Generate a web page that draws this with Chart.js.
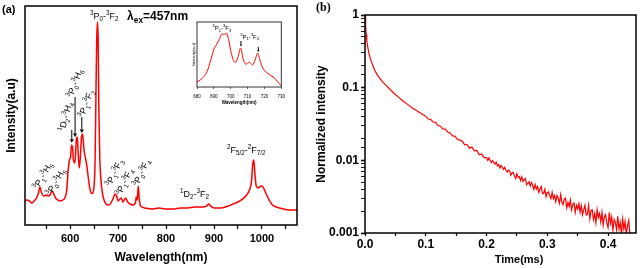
<!DOCTYPE html>
<html>
<head>
<meta charset="utf-8">
<script src="https://cdn.jsdelivr.net/npm/chart.js@4.4.1/dist/chart.umd.min.js"></script>
<style>
html, body { margin: 0; padding: 0; background: #fff; }
body { width: 640px; height: 268px; position: relative; overflow: hidden; }
canvas { position: absolute; }
#specChart { left: 0; top: 0; }
#insetChart { left: 182px; top: 18px; }
#decayChart { left: 312px; top: 0; }
</style>
</head>
<body>
<canvas id="specChart" width="320" height="268"></canvas>
<canvas id="decayChart" width="328" height="268"></canvas>
<canvas id="insetChart" width="108" height="92"></canvas>
<script>
// --- donnees (a) : spectre d'emission ---
const waveNm = [506, 510, 515, 520, 525, 530, 534, 537, 540, 545, 550, 555, 558, 562, 565, 570, 575, 580, 585, 590,
  593, 596, 599, 601, 603, 605, 607, 610, 613, 615, 617, 619, 621, 624, 626, 629, 632, 635, 638, 641,
  644, 647, 650, 652, 654, 655.5, 657, 658.5, 660, 662, 664, 667, 670, 675, 680, 685, 690, 694, 697, 700,
  704, 707, 710, 716, 720, 725, 732, 736, 738, 740, 742, 744, 747, 755, 770, 785, 800, 815, 830, 845,
  860, 875, 885, 889, 893, 900, 915, 930, 940, 950, 960, 968, 974, 978, 981, 983, 985, 988, 992, 998,
  1002, 1008, 1015, 1022, 1030, 1045, 1060, 1073];
const emission = [11.0, 11.4, 11.0, 10.0, 11.0, 12.3, 14.6, 17.4, 15.1, 13.2, 13.7, 13.2, 13.7, 15.5, 14.6, 12.3, 11.4, 11.0, 11.4, 12.8,
  16.0, 25.0, 30.0, 31.0, 36.5, 35.6, 29.7, 28.3, 38.8, 40.2, 32.0, 26.0, 29.7, 40.6, 41.6, 34.2, 30.6, 26.9, 21.5, 17.0,
  14.5, 14.5, 18.0, 28.0, 61.6, 84.5, 92.7, 84.5, 52.5, 29.7, 21.5, 15.1, 11.9, 9.6, 9.1, 10.0, 12.3, 14.2, 13.2, 11.0,
  11.9, 12.3, 10.5, 12.3, 10.5, 9.6, 9.1, 10.0, 12.8, 11.4, 17.8, 12.3, 8.7, 7.8, 7.3, 7.8, 7.3, 7.3, 7.8, 7.8,
  8.2, 8.2, 8.7, 9.6, 8.7, 7.8, 7.8, 8.7, 9.6, 10.5, 11.9, 13.7, 16.0, 19.6, 28.3, 29.7, 24.2, 17.8, 16.9, 17.8,
  17.4, 14.6, 11.4, 9.1, 8.2, 7.3, 6.8, 6.8];

// --- donnees de l'encart (zoom 680-730 nm) ---
const insetNm = [680, 682, 684, 686, 688, 690, 691.5, 693, 695, 696, 697.3, 698.8, 700, 701.5, 702.8, 704.2, 705.9, 707.3, 709, 711,
  713, 714.5, 716, 717.7, 719.5, 721.5, 723.5, 725.5, 727.5, 730];
const insetInt = [8, 11, 16, 24, 40, 58, 65, 72, 82, 80, 83, 73, 56, 42, 38, 45, 60, 44, 35, 38,
  34, 42, 52, 38, 27, 22, 18, 15, 9, 2];

// --- donnees (b) : declin de luminescence ---
const decayMs = [0, 0.001, 0.002, 0.003, 0.0045, 0.006, 0.008, 0.010, 0.013, 0.016, 0.020, 0.025, 0.030, 0.036, 0.042, 0.048,
  0.055, 0.062, 0.070, 0.078, 0.086, 0.093,
  0.100, 0.104, 0.108, 0.112, 0.116, 0.120, 0.124, 0.128, 0.132, 0.136,
  0.140, 0.144, 0.148, 0.152, 0.156, 0.160, 0.164, 0.168, 0.172, 0.176,
  0.180, 0.184, 0.188, 0.192, 0.196,
  0.200, 0.202, 0.204, 0.206, 0.208, 0.210, 0.212, 0.214, 0.216, 0.218,
  0.220, 0.222, 0.224, 0.226, 0.228, 0.230, 0.232, 0.234, 0.236, 0.238,
  0.240, 0.242, 0.244, 0.246, 0.248, 0.250, 0.252, 0.254, 0.256, 0.258,
  0.260, 0.262, 0.264, 0.266, 0.268, 0.270, 0.272, 0.274, 0.276, 0.278,
  0.280, 0.282, 0.284, 0.286, 0.288, 0.290, 0.292, 0.294, 0.296, 0.298,
  0.300, 0.302, 0.304, 0.306, 0.308, 0.310, 0.312, 0.314, 0.316, 0.318,
  0.320, 0.322, 0.324, 0.326, 0.328, 0.330, 0.332, 0.334, 0.336, 0.338,
  0.340, 0.342, 0.344, 0.346, 0.348, 0.350, 0.352, 0.354, 0.356, 0.358,
  0.360, 0.362, 0.364, 0.366, 0.368, 0.370, 0.372, 0.374, 0.376, 0.378,
  0.380, 0.382, 0.384, 0.386, 0.388, 0.390, 0.392, 0.394, 0.396, 0.398,
  0.400, 0.402, 0.404, 0.406, 0.408, 0.410, 0.412, 0.414, 0.416, 0.418,
  0.420, 0.422, 0.424, 0.426, 0.428, 0.430, 0.432, 0.434, 0.436];
const decayNorm = [1, 0.708, 0.537, 0.437, 0.363, 0.309, 0.263, 0.234, 0.200, 0.174, 0.151, 0.132, 0.117, 0.105, 0.0933, 0.0832,
  0.0741, 0.0661, 0.0589, 0.0525, 0.0479, 0.0437,
  0.0405, 0.0370, 0.0366, 0.0337, 0.0333, 0.0303, 0.0295, 0.0270, 0.0269, 0.0245,
  0.0238, 0.0217, 0.0215, 0.0195, 0.0190, 0.0184, 0.0163, 0.0165, 0.0147, 0.0152,
  0.0135, 0.0137, 0.0119, 0.0122, 0.0109,
  0.0109, 0.0100, 0.01078, 0.00989, 0.00928, 0.00989, 0.00939, 0.00886, 0.00944, 0.00837,
  0.00871, 0.00785, 0.00851, 0.00804, 0.00750, 0.00799, 0.00729, 0.00692, 0.00729, 0.00720,
  0.00622, 0.00673, 0.00682, 0.00608, 0.00562, 0.00655, 0.00583, 0.00597, 0.00527, 0.00592,
  0.00513, 0.00540, 0.00562, 0.00461, 0.00481, 0.00506, 0.00443, 0.00497, 0.00451, 0.00398,
  0.00466, 0.00402, 0.00436, 0.00362, 0.00403, 0.00437, 0.00349, 0.00351, 0.00400, 0.00316,
  0.00360, 0.00367, 0.00326, 0.00296, 0.00361, 0.00297, 0.00327, 0.00269, 0.00327, 0.00298,
  0.00256, 0.00337, 0.00264, 0.00246, 0.00292, 0.00302, 0.00221, 0.00262, 0.00232, 0.00285,
  0.00209, 0.00249, 0.00258, 0.00192, 0.00241, 0.00214, 0.00254, 0.00193, 0.00238, 0.00178,
  0.00209, 0.00242, 0.00176, 0.00182, 0.00241, 0.00157, 0.00203, 0.00209, 0.00153, 0.00185,
  0.00138, 0.00210, 0.00164, 0.00186, 0.00142, 0.00193, 0.00128, 0.00166, 0.00179, 0.00137,
  0.00119, 0.00192, 0.00136, 0.00167, 0.00109, 0.00154, 0.00140, 0.00111, 0.00170, 0.00114,
  0.00140, 0.000964, 0.00156, 0.00114, 0.00144, 0.000962, 0.00125, 0.00149, 0.000973];

// --- annotations (transitions) ---
const specNotes = [
  { text: '^{3}P_{0}-^{3}F_{2}', x: 641.7, y: 94.1, rot: 0, size: 9 },
  { text: 'λ_{ex}=457nm', x: 718.8, y: 93.6, rot: 0, size: 12, weight: 'bold' },
  { text: '^{1}D_{2}-^{3}H_{4}', x: 588.5, y: 42.5, rot: -75, size: 9 },
  { text: '^{3}P_{0}-^{3}H_{6}', x: 605.2, y: 58.0, rot: -70, size: 9 },
  { text: '^{3}P_{1}-^{3}F_{2}', x: 629.2, y: 48.9, rot: -70, size: 9 },
  { text: '^{3}P_{1}-^{3}H_{5}', x: 533.3, y: 16.0, rot: -60, size: 9 },
  { text: '^{3}P_{0}-^{3}H_{5}', x: 560.4, y: 13.2, rot: -60, size: 9 },
  { text: '^{3}P_{1}-^{3}F_{3}', x: 685.4, y: 17.4, rot: -65, size: 9 },
  { text: '^{3}P_{1}-^{3}F_{4}', x: 706.3, y: 13.2, rot: -65, size: 9 },
  { text: '^{3}P_{0}-^{3}F_{4}', x: 741.7, y: 17.4, rot: -65, size: 9 },
  { text: '^{1}D_{2}-^{3}F_{2}', x: 829.2, y: 12.8, rot: 0, size: 9 },
  { text: '^{2}F_{5/2}-^{2}F_{7/2}', x: 927.1, y: 32.9, rot: 0, size: 9 }
];
const specArrows = [
  { x: 603.5, from: 43.4, to: 37.6 },
  { x: 610.4, from: 58.4, to: 40.2 },
  { x: 624.4, from: 49.3, to: 42.0 }
];
const insetNotes = [
  { text: '^{3}P_{1}-^{3}F_{3}', x: 689.1, y: 87.7, rot: 0, size: 6 },
  { text: '^{3}P_{1}-^{3}F_{4}', x: 705.6, y: 74.6, rot: 0, size: 6 }
];
const insetArrows = [
  { x: 706.1, from: 70.8, to: 62.3 },
  { x: 716.4, from: 61.5, to: 53.8 }
];

const SANS = '"Liberation Sans", Arial, sans-serif';
const SERIF = '"Liberation Serif", "Times New Roman", serif';
const RED = '#ff0000';

Chart.defaults.font.family = SANS;
Chart.defaults.color = '#000';
Chart.defaults.animation = false;

// Decouper "^{3}P_{0}" en morceaux normal / exposant / indice
function parseRich(str) {
  const parts = [];
  const re = /([\^_])\{([^}]*)\}|([^\^_]+)/g;
  let m;
  while ((m = re.exec(str))) {
    if (m[1]) parts.push({ t: m[2], k: m[1] === '^' ? 'sup' : 'sub' });
    else parts.push({ t: m[3], k: 'n' });
  }
  return parts;
}

function drawRich(ctx, str, x, y, size, rot, weight, family) {
  ctx.save();
  ctx.translate(x, y);
  ctx.rotate(rot * Math.PI / 180);
  ctx.textBaseline = 'alphabetic';
  ctx.textAlign = 'left';
  ctx.fillStyle = '#000';
  let cx = 0;
  parseRich(str).forEach(p => {
    const s = p.k === 'n' ? size : size * 0.7;
    const dy = p.k === 'sup' ? -size * 0.42 : (p.k === 'sub' ? size * 0.28 : 0);
    ctx.font = (weight || 'normal') + ' ' + s + 'px ' + (family || SANS);
    ctx.fillText(p.t, cx, dy);
    cx += ctx.measureText(p.t).width;
  });
  ctx.restore();
}

function drawArrow(ctx, x, y1, y2, head) {
  ctx.save();
  ctx.strokeStyle = '#000';
  ctx.fillStyle = '#000';
  ctx.lineWidth = 1;
  ctx.beginPath();
  ctx.moveTo(x, y1);
  ctx.lineTo(x, y2 - head);
  ctx.stroke();
  ctx.beginPath();
  ctx.moveTo(x - head * 0.6, y2 - head);
  ctx.lineTo(x + head * 0.6, y2 - head);
  ctx.lineTo(x, y2);
  ctx.closePath();
  ctx.fill();
  ctx.restore();
}

// Cadre autour de la zone de trace
function framePlugin(width) {
  return {
    id: 'frame',
    afterDatasetsDraw(chart) {
      const { ctx, chartArea: a } = chart;
      ctx.save();
      ctx.strokeStyle = '#000';
      ctx.lineWidth = width;
      ctx.strokeRect(a.left, a.top, a.right - a.left, a.bottom - a.top);
      ctx.restore();
    }
  };
}

// Textes et fleches places en coordonnees de donnees, plus textes libres en pixels
function notesPlugin(notes, arrows, head, extra) {
  return {
    id: 'notes',
    afterDraw(chart) {
      const { ctx } = chart;
      const xs = chart.scales.x, ys = chart.scales.y;
      notes.forEach(n => {
        drawRich(ctx, n.text, xs.getPixelForValue(n.x), ys.getPixelForValue(n.y), n.size, n.rot, n.weight);
      });
      arrows.forEach(a => {
        drawArrow(ctx, xs.getPixelForValue(a.x), ys.getPixelForValue(a.from), ys.getPixelForValue(a.to), head);
      });
      if (extra) extra(ctx, chart);
    }
  };
}

function pairs(xs, ys) {
  return xs.map((x, i) => ({ x: x, y: ys[i] }));
}

// --- graphique (a) ---
new Chart(document.getElementById('specChart'), {
  type: 'line',
  data: {
    datasets: [{
      data: pairs(waveNm, emission),
      borderColor: RED,
      borderWidth: 1.5,
      pointRadius: 0,
      cubicInterpolationMode: 'monotone',
      fill: false
    }]
  },
  options: {
    responsive: false,
    events: [],
    layout: { padding: { left: 0, top: 6, right: 23, bottom: 0 } },
    plugins: { legend: { display: false }, tooltip: { enabled: false } },
    scales: {
      x: {
        type: 'linear',
        min: 506,
        max: 1073,
        afterFit: s => { s.height = 43; },
        border: { display: false },
        grid: { drawOnChartArea: false, tickLength: 4, tickColor: '#000', tickWidth: 1.2 },
        ticks: {
          stepSize: 50, includeBounds: false, autoSkip: false, maxRotation: 0, padding: 3,
          font: { size: 11, weight: 'bold' },
          callback: v => (Math.round(v) % 100 === 0 ? String(Math.round(v)) : '')
        },
        title: { display: true, text: 'Wavelength(nm)', font: { size: 12, weight: 'bold' }, padding: { top: 0, bottom: 2.8 } }
      },
      y: {
        min: 0,
        max: 100,
        afterFit: s => { s.width = 25; },
        border: { display: false },
        grid: { display: false },
        ticks: { display: false },
        title: { display: true, text: 'Intensity(a.u)', font: { size: 12, weight: 'bold' }, padding: { top: 4.8, bottom: 0 } }
      }
    }
  },
  plugins: [framePlugin(1.5), notesPlugin(specNotes, specArrows, 3.5, ctx => {
    ctx.save();
    ctx.fillStyle = '#000';
    ctx.font = 'bold 11px ' + SANS;
    ctx.textBaseline = 'alphabetic';
    ctx.fillText('(a)', 2, 13);
    ctx.restore();
  })]
});

// --- encart ---
new Chart(document.getElementById('insetChart'), {
  type: 'line',
  data: {
    datasets: [{
      data: pairs(insetNm, insetInt),
      borderColor: RED,
      borderWidth: 1,
      pointRadius: 0,
      cubicInterpolationMode: 'monotone',
      fill: false
    }]
  },
  options: {
    responsive: false,
    events: [],
    layout: { padding: { left: 0, top: 4, right: 5, bottom: 0 } },
    plugins: { legend: { display: false }, tooltip: { enabled: false } },
    scales: {
      x: {
        type: 'linear',
        min: 680,
        max: 730,
        afterFit: s => { s.height = 23; },
        border: { display: false },
        grid: { drawOnChartArea: false, tickLength: 2, tickColor: '#000', tickWidth: 0.6 },
        ticks: { stepSize: 10, autoSkip: false, maxRotation: 0, padding: 5, font: { size: 4.5 } },
        title: { display: true, text: 'Wavelength(nm)', font: { size: 4.5, weight: 'bold' }, padding: { top: 0, bottom: 4.3 } }
      },
      y: {
        min: 0,
        max: 100,
        afterFit: s => { s.width = 15; },
        border: { display: false },
        grid: { display: false },
        ticks: { display: false },
        title: { display: true, text: 'Intensity(a.u)', font: { size: 4 }, padding: { top: 9.5, bottom: 0 } }
      }
    }
  },
  plugins: [framePlugin(0.8), notesPlugin(insetNotes, insetArrows, 2)]
});

// --- graphique (b) ---
const isDecade = v => Math.abs(Math.log10(v) - Math.round(Math.log10(v))) < 1e-6;

new Chart(document.getElementById('decayChart'), {
  type: 'line',
  data: {
    datasets: [{
      data: pairs(decayMs, decayNorm),
      borderColor: RED,
      borderWidth: 1.2,
      pointRadius: 0,
      tension: 0,
      fill: false
    }]
  },
  options: {
    responsive: false,
    events: [],
    layout: { padding: { left: 0, top: 15, right: 4, bottom: 0 } },
    plugins: { legend: { display: false }, tooltip: { enabled: false } },
    scales: {
      x: {
        type: 'linear',
        min: 0,
        max: 0.446,
        afterFit: s => { s.height = 35; },
        border: { display: false },
        grid: { drawOnChartArea: false, tickLength: 3, tickColor: '#000', tickWidth: 1.2 },
        ticks: {
          stepSize: 0.05, includeBounds: false, autoSkip: false, maxRotation: 0, padding: 1,
          font: { size: 12, weight: 'bold' },
          callback: v => {
            const k = Math.round(v * 100);
            return k % 10 === 0 ? (k / 100).toFixed(1) : '';
          }
        },
        title: { display: false }
      },
      y: {
        type: 'logarithmic',
        min: 0.001,
        max: 1,
        afterFit: s => { s.width = 53; },
        border: { display: false },
        grid: {
          drawOnChartArea: false, tickLength: 4, tickColor: '#000',
          tickWidth: c => (c.tick && isDecade(c.tick.value) ? 1.6 : 0.9)
        },
        ticks: {
          autoSkip: false, padding: 2,
          font: { size: 12, weight: 'bold' },
          callback: v => {
            if (!isDecade(v)) return '';
            const p = Math.round(Math.log10(v));
            return p >= 0 ? '1' : Math.pow(10, p).toFixed(-p);
          }
        },
        title: { display: true, text: 'Normalized intensity', font: { size: 12, weight: 'bold' }, padding: { top: 2.8, bottom: 0 } }
      }
    }
  },
  plugins: [framePlugin(1.5), notesPlugin([], [], 0, ctx => {
    ctx.save();
    ctx.fillStyle = '#000';
    ctx.font = 'bold 12px ' + SERIF;
    ctx.textBaseline = 'alphabetic';
    ctx.fillText('(b)', 4, 11);
    ctx.font = 'bold 11px ' + SANS;
    ctx.textAlign = 'center';
    ctx.textBaseline = 'middle';
    ctx.fillText('Time(ms)', 207, 260);
    ctx.restore();
  })]
});
</script>
</body>
</html>
